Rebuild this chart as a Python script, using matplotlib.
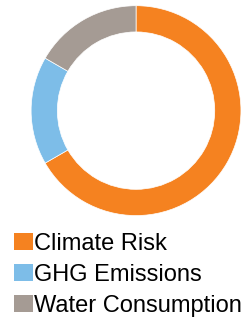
import matplotlib
matplotlib.use('Agg')
import matplotlib.pyplot as plt
from matplotlib.patches import Patch

labels = ['Climate Risk', 'GHG Emissions', 'Water Consumption']
values = [4, 1, 1]
colors = ['#F58220', '#7DBDE8', '#A59B94']

plt.rcParams['font.family'] = ['Liberation Sans', 'DejaVu Sans']

fig = plt.figure(figsize=(2.44, 3.17), dpi=100)
ax = fig.add_axes([0.127, 0.320, 0.861, 0.662])
ax.pie(values, colors=colors, startangle=90, counterclock=False,
       wedgeprops=dict(width=0.25, edgecolor='white', linewidth=0.5))
ax.set_aspect('equal')
ax.set_xlim(-1, 1)
ax.set_ylim(-1, 1)

handles = [Patch(facecolor=c, edgecolor='none') for c in colors]
fig.legend(handles, labels, loc='upper left', bbox_to_anchor=(0.058, 0.265),
           frameon=False, fontsize=17.0, handlelength=0.8, handleheight=0.72,
           handletextpad=0.05, labelspacing=0.38, borderaxespad=0, borderpad=0)

fig.savefig('out.png', dpi=100)
